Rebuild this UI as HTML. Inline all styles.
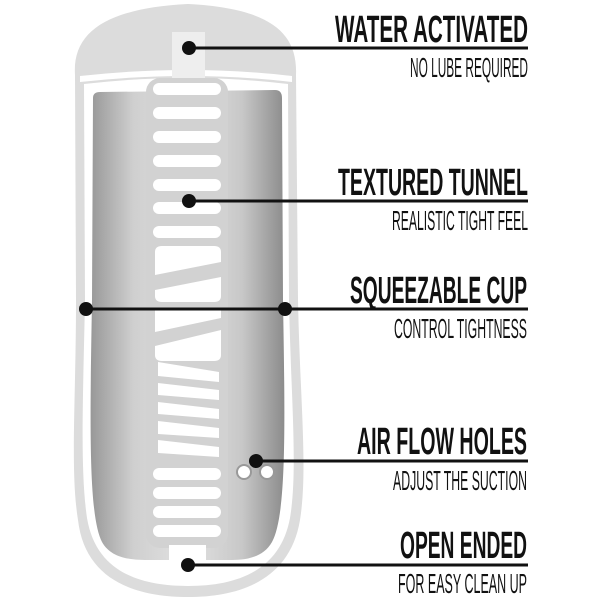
<!DOCTYPE html>
<html><head><meta charset="utf-8"><style>
html,body{margin:0;padding:0;background:#fff;}
svg{display:block;}
.t{font-family:"Liberation Sans Narrow","Liberation Sans",sans-serif;font-weight:bold;font-size:38px;fill:#111;}
.s{font-family:"Liberation Sans Narrow","Liberation Sans",sans-serif;font-size:28px;fill:#111;}
</style></head><body>
<svg width="600" height="600" viewBox="0 0 600 600" xmlns="http://www.w3.org/2000/svg">
<defs>
<linearGradient id="g" x1="0" x2="1" y1="0" y2="0">
<stop offset="0" stop-color="#989898"/><stop offset="0.22" stop-color="#cfcfcf"/>
<stop offset="0.5" stop-color="#e2e2e2"/><stop offset="0.78" stop-color="#c8c8c8"/>
<stop offset="1" stop-color="#8c8c8c"/></linearGradient>
</defs>
<path d="M75,75 C72,30 110,8 188,4 C266,8 298,30 296,75 L298,300 C300,400 308,470 300,520 C290,580 240,597 188,597 C135,597 85,580 78,520 C70,470 76,400 76,300 Z" fill="#dcdcdc"/>
<path d="M80,76 Q188,64 292,76 L292,82 Q188,70 80,82 Z" fill="#fff"/>
<path d="M84,84 Q188,72 288,84 L289,300 C291,400 298,470 290,518 C280,572 235,586 188,586 C140,586 96,572 87,518 C80,470 83,400 85,300 Z" fill="#fff"/>
<path d="M93,98 Q93,92 100,92 L275,90 Q282,90 282,98 L283,300 C285,420 287,515 272,542 C262,560 240,560 230,560 L150,560 C135,560 112,560 102,542 C88,515 90,420 92,300 Z" fill="url(#g)"/>
<rect x="172" y="32" width="33" height="50" fill="#eeeeee"/>
<rect x="146" y="78" width="82" height="470" rx="14" fill="#d2d2d2"/>
<g fill="#fff">
<rect x="153" y="83" width="68" height="12" rx="6"/>
<rect x="153" y="107" width="68" height="12" rx="6"/>
<rect x="153" y="131" width="68" height="12" rx="6"/>
<rect x="153" y="155" width="68" height="12" rx="6"/>
<rect x="153" y="179" width="68" height="12" rx="6"/>
<rect x="153" y="202" width="68" height="12" rx="6"/>
<rect x="153" y="226" width="68" height="12" rx="6"/>
<path d="M155,252 Q155,246 162,246 L214,246 Q221,246 221,252 L221,262 L155,275 Z"/>
<path d="M155,290 L221,277 L221,296 Q221,302 214,302 L162,302 Q155,302 155,296 Z"/>
<path d="M155,308 L221,308 L221,318 L155,332 Z"/>
<path d="M155,346 L221,330 L221,355 Q221,361 214,361 L162,361 Q155,361 155,355 Z"/>
<path d="M158,362 L219,372 L219,382 L158,376 Z"/>
<path d="M158,383 L219,390 L219,400 L158,395 Z"/>
<path d="M158,402 L219,409 L219,419 L158,414 Z"/>
<path d="M158,421 L219,428 L219,438 L158,434 Z"/>
<path d="M158,440 L219,447 L219,457 L158,453 Z"/>
<rect x="153" y="468" width="68" height="12" rx="6"/>
<rect x="153" y="487" width="68" height="12" rx="6"/>
<rect x="153" y="506" width="68" height="12" rx="6"/>
<rect x="153" y="525" width="68" height="12" rx="6"/>
</g>
<rect x="169" y="545" width="37" height="20" fill="#fff"/>
<circle cx="244" cy="472" r="7" fill="#fff" stroke="#999" stroke-width="2"/>
<circle cx="267" cy="472" r="7" fill="#fff" stroke="#999" stroke-width="2"/>
<g stroke="#111" stroke-width="3">
<line x1="189" y1="48" x2="528" y2="48"/>
<line x1="189" y1="201" x2="528" y2="201"/>
<line x1="86" y1="309" x2="528" y2="309"/>
<line x1="255" y1="461" x2="528" y2="461"/>
<line x1="188" y1="565" x2="528" y2="565"/>
</g>
<g fill="#111">
<circle cx="189" cy="48" r="7"/><circle cx="189" cy="201" r="7"/>
<circle cx="86" cy="309" r="7"/><circle cx="285" cy="309" r="7"/>
<circle cx="256" cy="461" r="7"/><circle cx="188" cy="565" r="7"/>
</g>
<text class="t" x="335" y="42" textLength="193" lengthAdjust="spacingAndGlyphs">WATER ACTIVATED</text>
<text class="s" x="410" y="77" textLength="118" lengthAdjust="spacingAndGlyphs">NO LUBE REQUIRED</text>
<text class="t" x="338" y="195" textLength="190" lengthAdjust="spacingAndGlyphs">TEXTURED TUNNEL</text>
<text class="s" x="392" y="230" textLength="136" lengthAdjust="spacingAndGlyphs">REALISTIC TIGHT FEEL</text>
<text class="t" x="350" y="303" textLength="177" lengthAdjust="spacingAndGlyphs">SQUEEZABLE CUP</text>
<text class="s" x="394" y="338" textLength="133" lengthAdjust="spacingAndGlyphs">CONTROL TIGHTNESS</text>
<text class="t" x="357" y="454" textLength="170" lengthAdjust="spacingAndGlyphs">AIR FLOW HOLES</text>
<text class="s" x="393" y="490" textLength="134" lengthAdjust="spacingAndGlyphs">ADJUST THE SUCTION</text>
<text class="t" x="400" y="558" textLength="127" lengthAdjust="spacingAndGlyphs">OPEN ENDED</text>
<text class="s" x="398" y="593" textLength="129" lengthAdjust="spacingAndGlyphs">FOR EASY CLEAN UP</text>
</svg>
</body></html>
